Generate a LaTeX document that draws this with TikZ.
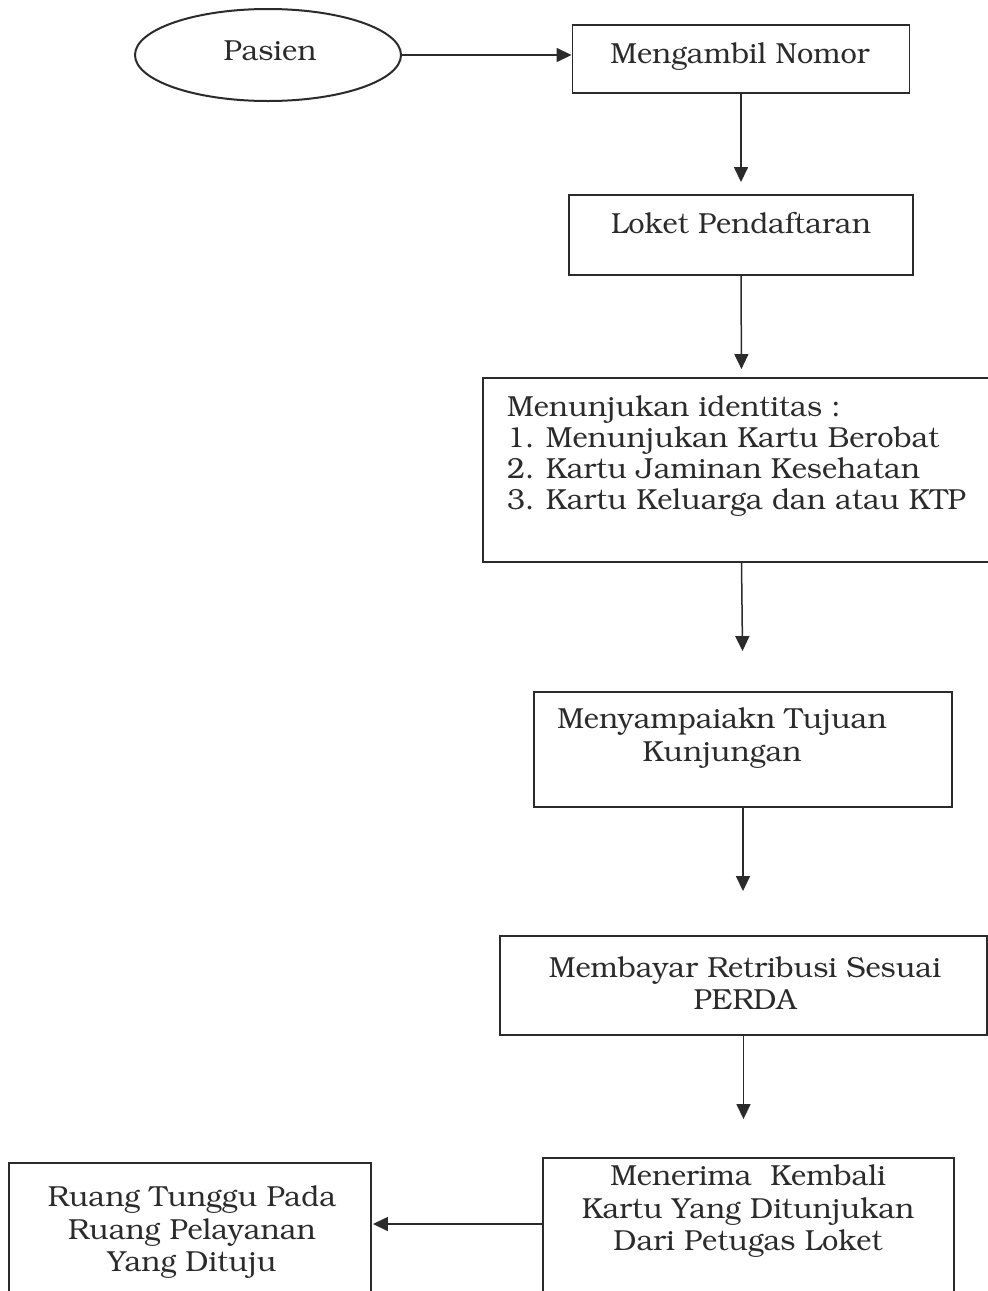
\documentclass[tikz,border=0pt]{standalone}
\usepackage[T1]{fontenc}
\usepackage{bookman}
\usetikzlibrary{arrows.meta,shapes.geometric}
\definecolor{ink}{HTML}{2B2B2B}
\begin{document}
\begin{tikzpicture}[x=1pt,y=-1pt,
  box/.style={draw=ink, line width=1.9pt, rectangle, inner sep=0pt},
  oval/.style={draw=ink, line width=2pt, ellipse, inner sep=0pt},
  txt/.style={font=\fontsize{29}{32.5}\selectfont, text=ink, inner sep=0pt, align=center},
  arr/.style={draw=ink, line width=1.5pt, -{Triangle[length=15pt,width=14pt]}}]
\useasboundingbox (0,0) rectangle (988,1291);
\fill[white] (0,0) rectangle (988,1291);
\clip (0,0) rectangle (988,1291);

% shapes
\node[oval, minimum width=266pt, minimum height=92pt] (e) at (268,55) {};
\node[box, minimum width=337pt, minimum height=68pt] (b1) at (741,59) {};
\node[box, minimum width=344pt, minimum height=80pt] (b2) at (741,235) {};
\node[box, minimum width=517pt, minimum height=184pt] (b3) at (741.5,470) {};
\node[box, minimum width=418pt, minimum height=115pt] (b4) at (743,749.5) {};
\node[box, minimum width=487pt, minimum height=99pt] (b5) at (743.5,985.5) {};
\node[box, minimum width=411pt, minimum height=162pt] (b6) at (748.5,1239) {};
\node[box, minimum width=362pt, minimum height=157pt] (b7) at (190,1241.5) {};

% texts
\node[txt] (t0) at (270,50) {Pasien};
\node[txt] (t1) at (740,57) {Mengambil Nomor};
\node[txt] (t2) at (741,223) {Loket Pendaftaran};
\node[txt, align=left, anchor=west, font=\fontsize{29}{31}\selectfont] (t3) at (507,456.5) {Menunjukan identitas :\\1. Menunjukan Kartu Berobat\\2. Kartu Jaminan Kesehatan\\3. Kartu Keluarga dan atau KTP};
\node[txt] (t4) at (722,738.5) {Menyampaiakn Tujuan\\Kunjungan};
\node[txt] (t5) at (745,983.5) {Membayar Retribusi Sesuai\\PERDA};
\node[txt] (t6) at (748,1211.5) {Menerima~ Kembali\\Kartu Yang Ditunjukan\\Dari Petugas Loket};
\node[txt] (t7) at (192,1232.5) {Ruang Tunggu Pada\\Ruang Pelayanan\\Yang Dituju};

% connectors
\draw[arr] (e.east) -- (e.east -| b1.west);
\draw[arr, shorten >=12pt] (b1.south) -- (b2.north);
\draw[arr, shorten >=8pt] (b2.south) -- (b3.north);
\draw[arr, shorten >=40pt] (b3.south) -- (b4.north);
\draw[arr, shorten >=44pt] (b4.south) -- (b4.south |- b5.north);
\draw[arr, shorten >=38pt] (b5.south) -- (b5.south |- b6.north);
\draw[arr, shorten >=1pt] ([yshift=15pt]b6.west) -- ([yshift=15pt]b6.west -| b7.east);
\end{tikzpicture}
\end{document}
